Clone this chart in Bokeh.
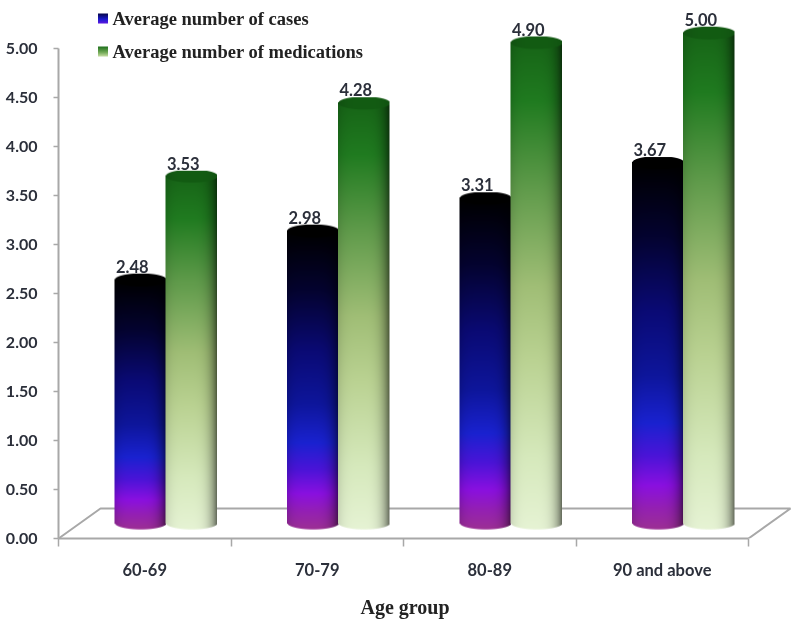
import numpy as np
from bokeh.plotting import figure
from bokeh.models import Range1d, FixedTicker, PrintfTickFormatter, Title
from bokeh.core.properties import value
from bokeh.embed import file_html
from bokeh.resources import INLINE

categories = ["60-69", "70-79", "80-89", "90 and above"]
cases = [2.48, 2.98, 3.31, 3.67]
medications = [3.53, 4.28, 4.90, 5.00]
y_ticks = [0, 0.5, 1, 1.5, 2, 2.5, 3, 3.5, 4, 4.5, 5]
series_names = ["Average number of cases", "Average number of medications"]
x_title = "Age group"

# Layout (page pixels) -> scales
W, H = 800, 629
FRAME_L, FRAME_R, FRAME_T, FRAME_B = 58, 792, 0, 538
SX = 172.5
SY = 98.0
DX, DY = 42 / SX, 30 / SY      # floor depth, data units
BAR_W = 51.5
ELL = 6.5

BLUE = [(0, "#9c3094"), (.06, "#9420b4"), (.12, "#8a10e0"), (.20, "#4c14d8"), (.29, "#1a22d0"),
        (.42, "#0e169c"), (.60, "#0a0a74"), (.80, "#040330"), (1, "#000000")]
GREEN = [(0, "#e6f3d4"), (.15, "#d6e9bc"), (.35, "#bad292"), (.50, "#a0be76"), (.70, "#609b4b"),
         (.88, "#207b20"), (1, "#176517")]


def rgb(h):
    return [int(h[i:i + 2], 16) for i in (1, 3, 5)]


def ramp(stops, t):
    ts = [s[0] for s in stops]
    cs = np.array([rgb(s[1]) for s in stops], float)
    return np.stack([np.interp(t, ts, cs[:, k]) for k in range(3)], -1)


def to_rgba(col, alpha):
    c = np.clip(col, 0, 255).astype(np.uint8)
    a = (np.clip(alpha, 0, 1) * 255).astype(np.uint8)
    img = np.zeros(alpha.shape, dtype=np.uint32)
    v = img.view(np.uint8).reshape(alpha.shape + (4,))
    v[..., 0], v[..., 1], v[..., 2] = c[..., 0], c[..., 1], c[..., 2]
    v[..., 3] = a
    return img


def cylinder(h_px, stops, cap, left_k, right_k):
    ss = 2
    nx = int(BAR_W * ss)
    ny = int((h_px + 2 * ELL) * ss)
    u = (np.arange(nx) + .5) / nx * 2 - 1
    yy = (np.arange(ny) + .5) / ss - ELL
    U, Y = np.meshgrid(u, yy)
    root = ELL * np.sqrt(np.clip(1 - U ** 2, 0, 1))
    t = np.clip((Y + ELL) / (h_px + ELL), 0, 1)
    col = ramp(stops, t)
    v = U + .15
    k = np.where(v < 0, left_k, right_k)
    shade = 1 - k * np.abs(v) ** 4
    col = col * shade[..., None]
    capc = np.array(rgb(cap), float) * (1 - .12 * np.abs(U)[..., None] ** 3)
    top = np.clip((Y - (h_px - root)) * 1.0 + .5, 0, 1)[..., None]
    col = col * (1 - top) + capc * top
    alpha = np.clip((Y + root) + .5, 0, 1) * np.clip((h_px + root - Y) + .5, 0, 1)
    return to_rgba(col, alpha)


def swatch(stops):
    t = (np.arange(20) + .5) / 20
    col = ramp(stops, t)[:, None, :].repeat(20, 1)
    return to_rgba(col, np.ones((20, 20)))


p = figure(width=W, height=H, output_backend="svg", toolbar_location=None,
           x_range=Range1d(0, (FRAME_R - FRAME_L) / SX),
           y_range=Range1d(0, (FRAME_B - FRAME_T) / SY),
           min_border_left=FRAME_L, min_border_right=W - FRAME_R, min_border_top=FRAME_T,
           min_border_bottom=H - FRAME_B, background_fill_color="white",
           border_fill_color="white", outline_line_color=None)
p.grid.visible = False
p.styles = {"filter": "blur(0.5px)"}

GRAY = "#a8a8a8"
TXT = "#2b2f3a"

ax = p.yaxis[0]
ax.ticker = FixedTicker(ticks=y_ticks)
ax.formatter = PrintfTickFormatter(format="%.2f")
ax.bounds = (0, 5)
ax.axis_line_color = GRAY
ax.axis_line_width = 2
ax.major_tick_line_color = GRAY
ax.major_tick_line_width = 1.5
ax.major_tick_in = 0
ax.major_tick_out = 5
ax.minor_tick_out = 0
ax.minor_tick_in = 0
ax.major_label_standoff = 16
ax.major_label_text_font = "Lato"
ax.major_label_text_font_style = "bold"
ax.major_label_text_font_size = "16px"
ax.major_label_text_color = TXT

n = len(categories)
bx = p.xaxis[0]
centers = [i + .5 for i in range(n)]
bx.ticker = FixedTicker(ticks=centers, minor_ticks=list(range(n + 1)))
bx.major_label_overrides = {c: s for c, s in zip(centers, categories)}
bx.bounds = (0, n)
bx.axis_line_color = GRAY
bx.axis_line_width = 2
bx.major_tick_in = 0
bx.major_tick_out = 0
bx.minor_tick_in = 0
bx.minor_tick_out = 8
bx.minor_tick_line_color = GRAY
bx.minor_tick_line_width = 1.5
bx.major_label_standoff = 13
bx.major_label_text_font = "Lato"
bx.major_label_text_font_style = "bold"
bx.major_label_text_font_size = "16.5px"
bx.major_label_text_color = TXT

p.add_layout(Title(text=x_title, align="left", offset=302, standoff=23, text_line_height=0.8,
                   text_font="Liberation Serif", text_font_style="bold",
                   text_font_size="20px", text_color="#222222"), "below")

# floor of the 3D box
p.line([0, DX, n + DX, n], [0, DY, DY, 0], line_color=GRAY, line_width=2)

# cylinders
half = BAR_W / 2 / SX
base = DY / 2 + 0.003
for i in range(n):
    xc = i + .5 + DX / 2
    for vals, stops, cap, lk, rk, shift in (
            (cases, BLUE, "#000000", .25, .35, -25.5 / SX),
            (medications, GREEN, "#135c13", .22, .36, 25.5 / SX)):
        v = vals[i]
        p.image_rgba(image=[cylinder(v * SY, stops, cap, lk, rk)],
                     x=[xc + shift - half], y=[base - ELL / SY],
                     dw=[2 * half], dh=[v + 2 * ELL / SY])
        p.text(x=[xc + shift], y=[v + base], text=[f"{v:.2f}"],
               x_offset=[-8], y_offset=[-14],
               text_align="center", text_baseline="middle",
               text_font=value("Lato"), text_font_style="bold",
               text_font_size="16.5px", text_color=TXT)


# legend
def dx(px):
    return (px - FRAME_L) / SX


def dy(py):
    return (FRAME_B - py) / SY


for name, stops, y_mid in zip(series_names,
                              ([(0, "#5a18e0"), (.4, "#1a1ad0"), (1, "#050540")],
                               [(0, "#c4dca0"), (.4, "#70a855"), (1, "#1a6e1a")]), (18, 51)):
    p.image_rgba(image=[swatch(stops)], x=[dx(97.5)], y=[dy(y_mid + 5)], dw=[10 / SX], dh=[10 / SY])
    p.text(x=[dx(112)], y=[dy(y_mid)], text=[name], text_align="left", text_baseline="middle",
           text_font=value("Liberation Serif"), text_font_style="bold",
           text_font_size="18.5px", text_color="#222222")

open("out.html", "w").write(file_html(p, INLINE))
